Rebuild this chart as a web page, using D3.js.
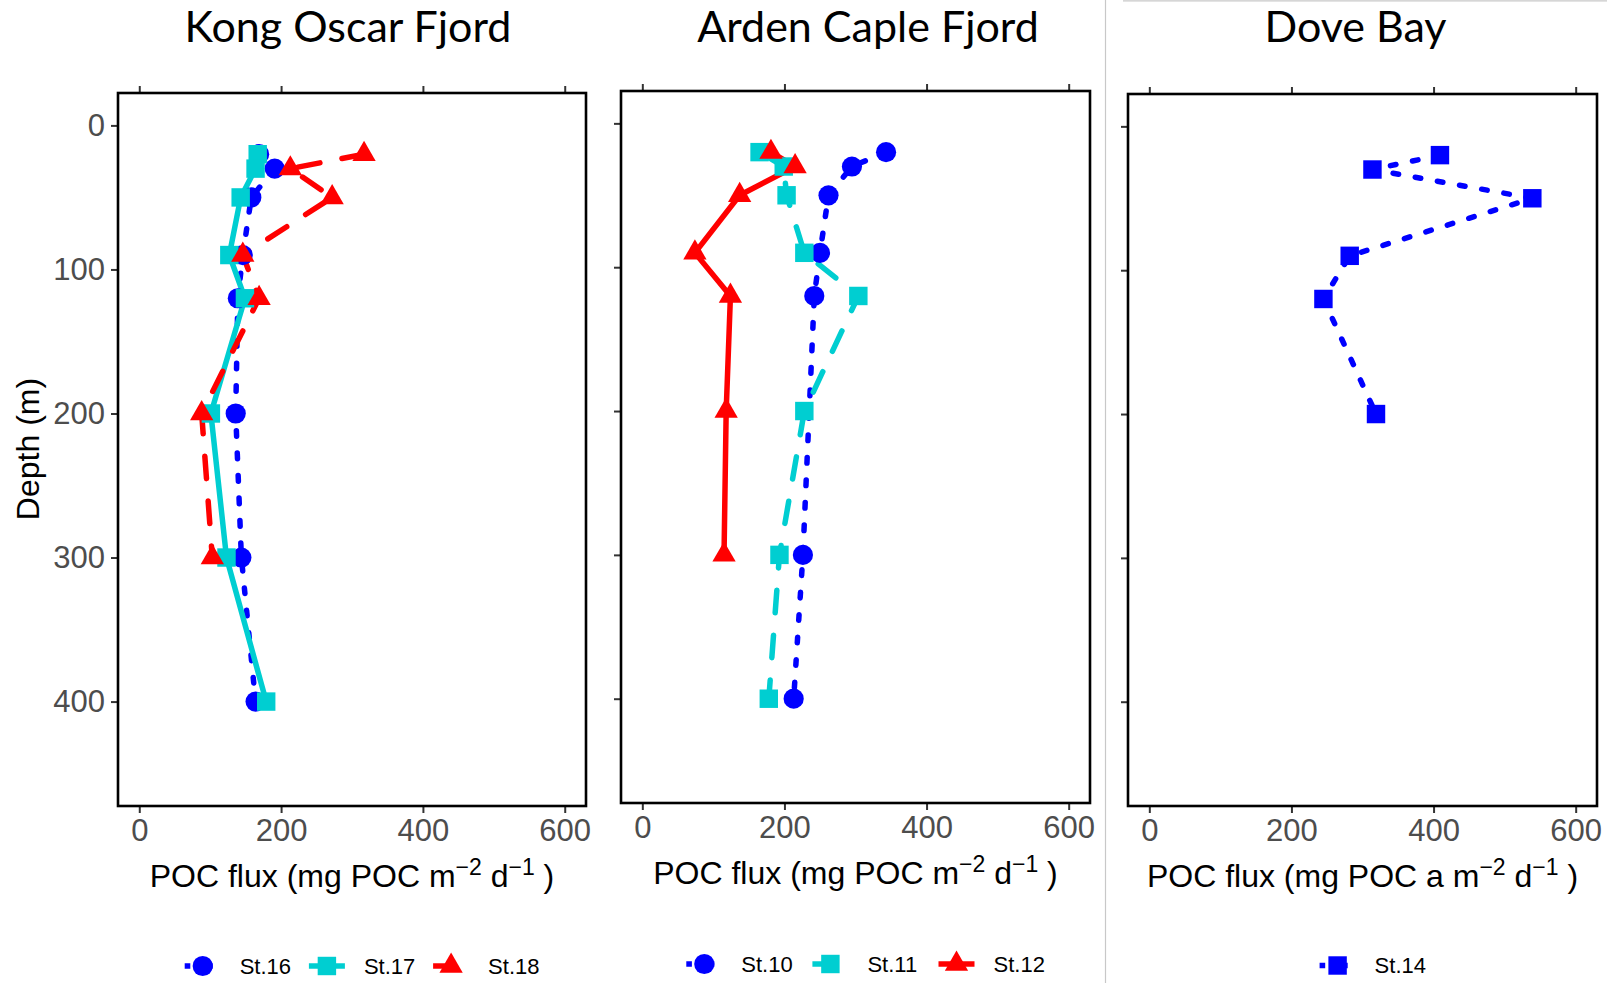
<!DOCTYPE html>
<html>
<head>
<meta charset="utf-8">
<script src="https://cdn.jsdelivr.net/npm/d3@7"></script>
<style>
  body { margin: 0; background: #fff; }
  svg { display: block; }
</style>
</head>
<body>
<svg id="chart" width="1607" height="983"></svg>
<script>
// depths (m) and POC flux values
const depthsKong = [20, 30, 50, 90, 120, 200, 300, 400];
const st16 = [169, 191, 158, 146, 139, 136, 144, 164];
const st17 = [167, 164, 143, 127, 149, 101, 123, 179];
const depthsSt18 = [20, 30, 50, 90, 120, 200, 300];
const st18 = [317, 213, 272, 146, 169, 88, 103];

const depthsSt10 = [20, 30, 50, 90, 120, 300, 400];
const st10 = [343, 295, 262, 250, 242, 226, 213];
const depthsArden = [20, 30, 50, 90, 120, 200, 300, 400];
const st11 = [165, 199, 203, 228, 304, 228, 193, 178];
const depthsSt12 = [20, 30, 50, 90, 120, 200, 300];
const st12 = [181, 215, 137, 74, 124, 118, 115];

const depthsDove = [20, 30, 50, 90, 120, 200];
const st14 = [409, 314, 539, 282, 245, 319];

const xTicks = [0, 200, 400, 600];
const yTicks = [0, 100, 200, 300, 400];

const blue = "#0000FF", cyan = "#00CED1", red = "#FF0000";

const styles = {
  dotted: "5.6 16.9",
  dashed: "22.5 22.5",
  solid: null
};

function series(name, depths, values, color, shape, line) {
  return {
    name: name, color: color, shape: shape, line: line,
    pts: depths.map((d, i) => ({ depth: d, flux: values[i] }))
  };
}

const panels = [
  {
    title: "Kong Oscar Fjord", titleX: 348, box: [118, 586, 93, 806],
    label: "POC flux (mg POC m", yLabels: true, legendX: 202.7, legendY: 966, legendStep: 124.2,
    series: [
      series("St.16", depthsKong, st16, blue, "circle", "dotted"),
      series("St.17", depthsKong, st17, cyan, "square", "solid"),
      series("St.18", depthsSt18, st18, red, "triangle", "dashed")
    ]
  },
  {
    title: "Arden Caple Fjord", titleX: 868, box: [621, 1090, 91, 803],
    label: "POC flux (mg POC m", yLabels: false, legendX: 704.3, legendY: 964, legendStep: 126.1,
    series: [
      series("St.10", depthsSt10, st10, blue, "circle", "dotted"),
      series("St.11", depthsArden, st11, cyan, "square", "dashed"),
      series("St.12", depthsSt12, st12, red, "triangle", "solid")
    ]
  },
  {
    title: "Dove Bay", titleX: 1355.5, box: [1128, 1597, 94, 806],
    label: "POC flux (mg POC a m", yLabels: false, legendX: 1337.6, legendY: 965.5, legendStep: 0,
    series: [
      series("St.14", depthsDove, st14, blue, "square", "dotted")
    ]
  }
];

const svg = d3.select("#chart");

// grey frame pieces from the pasted figure
svg.append("line").attr("x1", 1105.5).attr("x2", 1105.5).attr("y1", 0).attr("y2", 983)
  .attr("stroke", "#c8c8c8").attr("stroke-width", 1.2);
svg.append("line").attr("x1", 1123).attr("x2", 1607).attr("y1", 0.8).attr("y2", 0.8)
  .attr("stroke", "#c8c8c8").attr("stroke-width", 1.2);

function symbolFor(shape) {
  if (shape === "circle") return d3.symbol().type(d3.symbolCircle).size(320);
  if (shape === "square") return d3.symbol().type(d3.symbolSquare).size(340);
  return d3.symbol().type(d3.symbolTriangle).size(235);
}

panels.forEach((p) => {
  const [x0, x1, y0, y1] = p.box;
  const x = d3.scaleLinear().domain([-30, 630]).range([x0, x1]);
  const y = d3.scaleLinear().domain([-22.5, 472.5]).range([y0, y1]);
  const g = svg.append("g");

  // title
  g.append("text")
    .attr("x", p.titleX).attr("y", 42)
    .attr("text-anchor", "middle")
    .style("font-family", "Lato, 'Open Sans', sans-serif")
    .style("font-size", "43px")
    .text(p.title);

  // axes
  const bottom = g.append("g").attr("transform", `translate(0,${y1})`)
    .call(d3.axisBottom(x).tickValues(xTicks).tickSize(7).tickPadding(6));
  const top = g.append("g").attr("transform", `translate(0,${y0})`)
    .call(d3.axisTop(x).tickValues(xTicks).tickSize(7).tickFormat(""));
  const left = g.append("g").attr("transform", `translate(${x0},0)`)
    .call(d3.axisLeft(y).tickValues(yTicks).tickSize(7).tickPadding(6)
      .tickFormat(p.yLabels ? d3.format("d") : ""));
  [bottom, top, left].forEach((a) => {
    a.select(".domain").remove();
    a.selectAll(".tick line").attr("stroke", "#333").attr("stroke-width", 2);
    a.selectAll(".tick text")
      .attr("fill", "#4D4D4D")
      .style("font-family", "'Liberation Sans', Arial, sans-serif")
      .style("font-size", "31px");
  });

  // panel border
  g.append("rect")
    .attr("x", x0).attr("y", y0).attr("width", x1 - x0).attr("height", y1 - y0)
    .attr("fill", "none").attr("stroke", "#000").attr("stroke-width", 2.6);

  // x label with superscripts
  const xl = g.append("text")
    .attr("x", (x0 + x1) / 2).attr("y", y1 + 81)
    .attr("text-anchor", "middle")
    .style("font-family", "'Liberation Sans', Arial, sans-serif")
    .style("font-size", "32px");
  xl.append("tspan").text(p.label);
  xl.append("tspan").attr("dy", -12).style("font-size", "23px").text("\u22122");
  xl.append("tspan").attr("dy", 12).text(" d");
  xl.append("tspan").attr("dy", -12).style("font-size", "23px").text("\u22121");
  xl.append("tspan").attr("dy", 12).text(" )");

  // lines
  const line = d3.line().x((d) => x(d.flux)).y((d) => y(d.depth));
  p.series.forEach((s) => {
    g.append("path")
      .datum(s.pts)
      .attr("d", line)
      .attr("fill", "none")
      .attr("stroke", s.color)
      .attr("stroke-width", 5.5)
      .attr("stroke-linecap", "round")
      .attr("stroke-linejoin", "round")
      .attr("stroke-dasharray", styles[s.line]);
  });

  // points
  p.series.forEach((s) => {
    g.selectAll(null)
      .data(s.pts)
      .join("path")
      .attr("d", symbolFor(s.shape))
      .attr("transform", (d) => `translate(${x(d.flux)},${y(d.depth)})`)
      .attr("fill", s.color);
  });

  // legend
  p.series.forEach((s, i) => {
    const cx = p.legendX + i * p.legendStep;
    const cy = p.legendY;
    g.append("line")
      .attr("x1", cx - 18).attr("x2", cx + 18).attr("y1", cy).attr("y2", cy)
      .attr("stroke", s.color).attr("stroke-width", 5.5)
      .attr("stroke-dasharray", styles[s.line]);
    g.append("path")
      .attr("d", symbolFor(s.shape)())
      .attr("transform", `translate(${cx},${cy})`)
      .attr("fill", s.color);
    g.append("text")
      .attr("x", cx + 37).attr("y", cy).attr("dy", "0.36em")
      .style("font-family", "'Liberation Sans', Arial, sans-serif")
      .style("font-size", "22px")
      .text(s.name);
  });

  if (p.yLabels) {
    g.append("text")
      .attr("transform", `translate(39,449) rotate(-90)`)
      .attr("text-anchor", "middle")
      .style("font-family", "'Liberation Sans', Arial, sans-serif")
      .style("font-size", "32px")
      .text("Depth (m)");
  }
});
</script>
</body>
</html>
